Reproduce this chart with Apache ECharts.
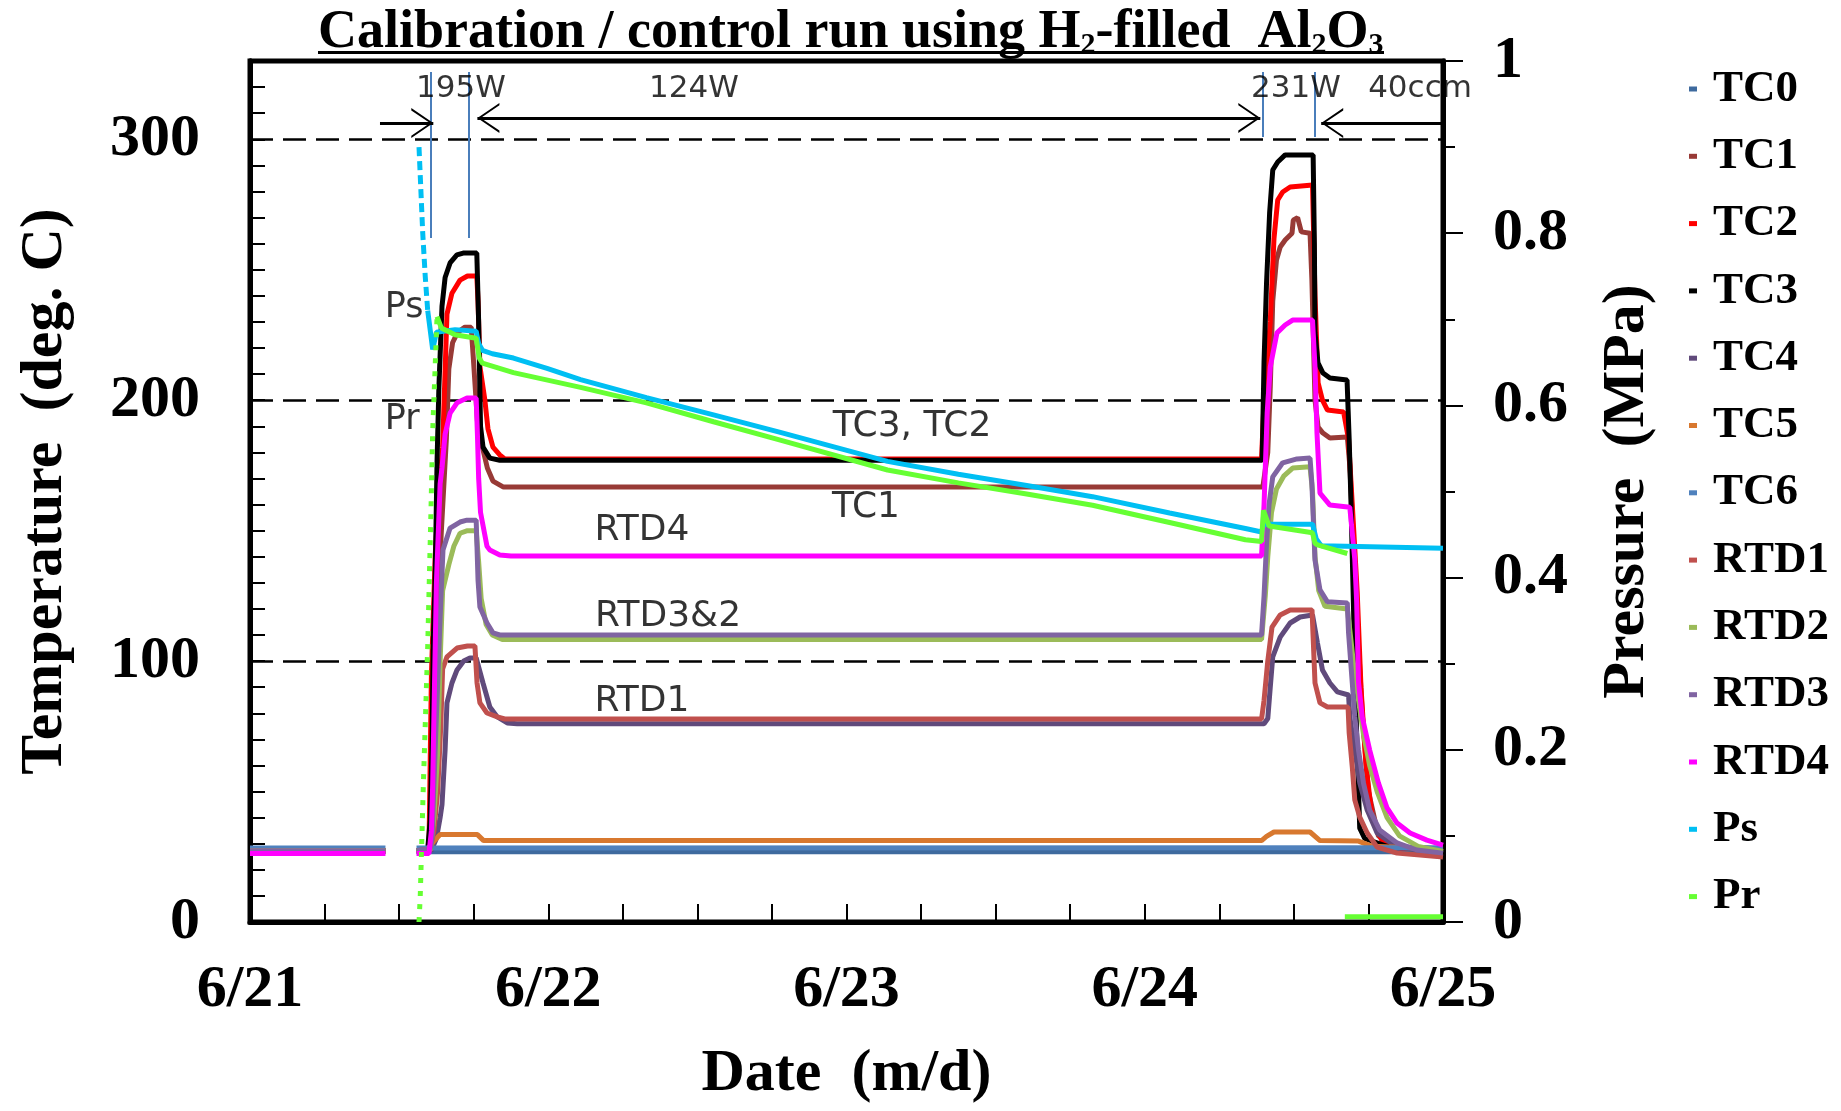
<!DOCTYPE html>
<html>
<head>
<meta charset="utf-8">
<script src="https://cdn.jsdelivr.net/npm/echarts@6/dist/echarts.min.js"></script>
<style>
  html, body { margin: 0; padding: 0; background: #ffffff; }
  #chart { width: 1841px; height: 1111px; }
</style>
</head>
<body>
<div id="chart"></div>
<script>
// ---- data: time in hours since 6/21 00:00, temperature in deg. C, pressure in MPa ----
const DATE_LABELS = ['6/21', '6/22', '6/23', '6/24', '6/25'];
const SERIES_NAMES = ['TC0', 'TC1', 'TC2', 'TC3', 'TC4', 'TC5', 'TC6', 'RTD1', 'RTD2', 'RTD3', 'RTD4', 'Ps', 'Pr'];

// '-' marks a gap in the logged record
const TC0 = [[0, 26.9], [10.9, 26.9], [12, '-'], [13.4, 26.9], [96, 26.9]];

const TC1 = [[0, 27.3], [10.9, 27.3], [12, '-'], [13.4, 27.3], [14.4, 27.5], [14.7, 70], [15.0, 110], [15.4, 150],
  [15.8, 185], [16.0, 212], [16.3, 222], [16.7, 226], [17.3, 228], [17.8, 228], [18.0, 214], [18.3, 192], [18.7, 182],
  [19.1, 174], [19.55, 169], [20.4, 166.7], [81.5, 166.7], [81.9, 180], [82.1, 205], [82.3, 238], [82.6, 253.7],
  [82.9, 258.7], [83.3, 261.4], [83.85, 264], [83.95, 269], [84.3, 270], [84.6, 264.5], [85.3, 264], [85.45, 246],
  [85.7, 200], [85.95, 189.7], [86.34, 187.4], [86.9, 185.5], [88.3, 185.9], [88.5, 175], [88.75, 150], [89.1, 115],
  [89.5, 80], [90.0, 50], [90.8, 33], [92, 28.5], [96, 27.5]];

const TC2 = [[0, 27.3], [10.9, 27.3], [12, '-'], [13.4, 27.3], [14.4, 28], [14.6, 95], [14.9, 140], [15.2, 165],
  [15.5, 182], [15.85, 233], [16.25, 241], [16.9, 246], [17.5, 247.6], [18.25, 247.6], [18.35, 238], [18.5, 213],
  [18.9, 200], [19.15, 189], [19.55, 182], [20.1, 179], [20.5, 177.5], [81.4, 177.5], [81.6, 200], [82.1, 230],
  [82.4, 262], [82.7, 276.7], [83.1, 279.8], [83.7, 281.7], [85.5, 282.5], [85.7, 240], [85.95, 206.6], [86.3, 200],
  [86.7, 196.2], [88.0, 195.5], [88.4, 185], [88.7, 160], [89.1, 126], [89.4, 90], [89.8, 60], [90.3, 40], [91.1, 31],
  [92.5, 28.5], [96, 27.5]];

const TC3 = [[0, 27.3], [10.9, 27.3], [12, '-'], [13.4, 27.3], [14.3, 28], [14.5, 39], [14.65, 68], [14.75, 108],
  [14.9, 132], [15.05, 176], [15.2, 205], [15.45, 236], [15.7, 247], [16.1, 252.6], [16.65, 255.7], [17.15, 256.4],
  [18.25, 256.4], [18.4, 230], [18.55, 190], [18.75, 182], [19.3, 177.8], [20.1, 177], [81.45, 177], [81.6, 215],
  [81.8, 245], [82.05, 272], [82.3, 288.2], [82.7, 291.3], [83.3, 294], [85.55, 294], [85.65, 260], [85.7, 225.8],
  [85.94, 214.3], [86.34, 210.4], [86.9, 208.5], [88.28, 207.7], [88.45, 185], [88.6, 160], [88.8, 120], [89.0, 80],
  [89.3, 36], [89.7, 32], [91.5, 29], [96, 28]];

const TC4 = [[0, 27.3], [10.9, 27.3], [12, '-'], [13.4, 27.3], [14.6, 27.5], [15.0, 32], [15.3, 40], [15.45, 45],
  [15.7, 66], [15.85, 84], [16.25, 91.6], [16.66, 96.6], [17.2, 100], [17.7, 101.2], [18.2, 101.2], [18.75, 91.6],
  [19.3, 82.4], [19.9, 78.6], [20.7, 76.3], [21.5, 76], [81.6, 76], [81.9, 78], [82.1, 90], [82.3, 101.6], [82.9, 109.2],
  [83.7, 114.6], [84.5, 116.9], [85.5, 117.7], [85.9, 106.9], [86.3, 96.6], [86.9, 91.6], [87.5, 88.2], [88.4, 87],
  [88.5, 78.6], [88.9, 65.9], [89.3, 53.3], [89.9, 42.9], [90.7, 34.1], [92.3, 28.7], [96, 26.4]];

const TC5 = [[0, 27.3], [10.9, 27.3], [12, '-'], [13.4, 27.3], [14.3, 28], [14.8, 31], [15.3, 33.5], [18.3, 33.5],
  [18.8, 31.2], [81.4, 31.2], [81.8, 32.8], [82.4, 34.5], [85.3, 34.5], [86.1, 31.2], [89.2, 31], [90.3, 29], [96, 28]];

const TC6 = [[0, 28.4], [10.9, 28.4], [12, '-'], [13.4, 28.4], [96, 28.5]];

const RTD1 = [[0, 27.3], [10.9, 27.3], [12, '-'], [13.4, 27.3], [14.5, 28], [14.8, 35], [15.1, 50], [15.35, 75],
  [15.5, 97], [15.85, 101.6], [16.66, 105], [17.5, 105.8], [18.1, 105.8], [18.27, 91.6], [18.5, 84], [19.07, 80.1],
  [19.9, 78.6], [20.5, 77.8], [81.4, 77.8], [81.6, 85], [81.9, 100], [82.24, 113], [82.9, 117.7], [83.7, 119.6],
  [85.46, 119.6], [85.55, 109.2], [85.7, 91.6], [86.1, 84], [86.7, 82.4], [88.36, 82.4], [88.45, 72.4], [88.7, 59.4],
  [88.9, 46.8], [89.3, 40.2], [89.9, 34.1], [90.7, 28.7], [92.3, 26.4], [96, 24.9]];

const RTD2 = [[0, 27.3], [10.9, 27.3], [12, '-'], [13.4, 27.3], [14.5, 27.5], [14.8, 40], [15.1, 65], [15.3, 100],
  [15.5, 127], [16.0, 137], [16.4, 144], [16.9, 149], [17.5, 150], [18.2, 150], [18.4, 138], [18.6, 124], [19.0, 114],
  [19.5, 110], [20.3, 108.3], [81.4, 108.3], [81.7, 125], [81.9, 140], [82.2, 157], [82.6, 166], [83.2, 171], [83.9, 174],
  [85.3, 174.5], [85.5, 165], [85.7, 140], [86.0, 127], [86.5, 121], [88.3, 120], [88.5, 112], [88.8, 99], [89.2, 85],
  [89.6, 72], [90.1, 60], [90.7, 50], [91.5, 40], [92.5, 33], [94, 29], [96, 27]];

const RTD3 = [[0, 27.3], [10.9, 27.3], [12, '-'], [13.4, 27.3], [14.5, 28], [14.65, 32], [14.9, 66], [15.3, 117],
  [15.53, 142.6], [16.1, 151], [16.9, 153.3], [17.46, 154], [18.2, 154], [18.35, 131], [18.5, 120.7], [19.07, 114.6],
  [19.55, 110.8], [20.1, 110], [81.4, 110], [81.6, 125], [81.8, 145], [82.0, 160], [82.3, 170.6], [83.1, 176],
  [84.25, 177.5], [85.3, 177.8], [85.45, 168], [85.7, 138.7], [86.1, 127.3], [86.7, 122.7], [88.3, 122.3], [88.4, 110.8],
  [88.7, 91.6], [88.9, 78.6], [89.2, 65.9], [89.6, 53.3], [90.1, 42.9], [90.9, 35.3], [92.3, 30.3], [93.9, 27.6], [96, 26.4]];

const RTD4 = [[0, 26.3], [10.9, 26.3], [12, '-'], [13.4, 26.3], [14.4, 26.3], [14.6, 35], [14.7, 53], [14.85, 92],
  [15.0, 130], [15.3, 168], [15.45, 174], [15.7, 187], [16.1, 195], [16.66, 199], [17.46, 200.8], [18.2, 200.8],
  [18.3, 187], [18.4, 170], [18.55, 157], [19.07, 144], [19.3, 142.6], [20.1, 140.7], [21, 140.3], [81.4, 140.3],
  [81.6, 160], [81.85, 195], [82.1, 212.7], [82.64, 225.8], [83.3, 228.8], [83.9, 230.7], [85.5, 230.7], [85.7, 212.7],
  [85.86, 187.4], [86.1, 164.4], [86.9, 159.8], [88.5, 159], [88.9, 139], [89.05, 123], [89.2, 92], [89.5, 78.6],
  [90.1, 65.9], [90.8, 53.3], [91.5, 43.7], [92.3, 37.9], [93.35, 34.1], [94.7, 31.4], [96, 29.5]];

// supply pressure: fast fall after the valve opens, then slow decline
const PS_FALL = [[13.6, 0.90], [13.75, 0.85], [13.9, 0.80], [14.1, 0.75], [14.3, 0.71]];
const PS = [[14.3, 0.71], [14.7, 0.665], [15.0, 0.685], [16.5, 0.688], [18.2, 0.686],
  [18.4, 0.672], [18.7, 0.664], [19.5, 0.660], [21.2, 0.655], [23.9, 0.643], [26.6, 0.630], [31.9, 0.609], [37.3, 0.589],
  [42.6, 0.569], [51.3, 0.535], [57, 0.520], [62.5, 0.507], [67.8, 0.494], [74, 0.475], [80.1, 0.457], [81.4, 0.453],
  [81.55, 0.462], [85.5, 0.462], [85.8, 0.445], [86.2, 0.437], [96, 0.434]];

// reactor pressure: fill, slow decline, then vented
const PR_FILL = [[13.6, 0.0], [13.7, 0.03], [13.95, 0.16], [14.3, 0.32], [14.55, 0.47], [14.7, 0.57], [14.9, 0.645],
  [15.05, 0.703]];
const PR = [[15.05, 0.703], [15.4, 0.69], [16.5, 0.682], [18.2, 0.678], [18.45, 0.655], [18.7, 0.649], [21.2, 0.638],
  [26.6, 0.621], [31.9, 0.603], [37.3, 0.581], [42.6, 0.560], [51.3, 0.525], [57, 0.510], [62.5, 0.497], [67.8, 0.484],
  [74, 0.464], [80.1, 0.444], [81.4, 0.442], [81.55, 0.478], [82.0, 0.460], [85.5, 0.452], [85.7, 0.440], [85.9, 0.438],
  [88.3, 0.428], [88.32, '-'], [88.1, 0.006], [96, 0.006]];

// ---- styling ----
const SERIF = '"Liberation Serif", "Times New Roman", serif';
const SANS = '"DejaVu Sans", Verdana, sans-serif';

const SERIES_DEFS = [
  { name: 'TC0', data: TC0, color: '#3E6A9E', axis: 0 },
  { name: 'TC1', data: TC1, color: '#983A36', axis: 0 },
  { name: 'TC2', data: TC2, color: '#FF0000', axis: 0 },
  { name: 'TC3', data: TC3, color: '#000000', axis: 0 },
  { name: 'TC4', data: TC4, color: '#604A7B', axis: 0 },
  { name: 'TC5', data: TC5, color: '#D8782F', axis: 0 },
  { name: 'TC6', data: TC6, color: '#4F81BD', axis: 0 },
  { name: 'RTD1', data: RTD1, color: '#C0504D', axis: 0 },
  { name: 'RTD2', data: RTD2, color: '#9BBB59', axis: 0 },
  { name: 'RTD3', data: RTD3, color: '#8064A2', axis: 0 },
  { name: 'RTD4', data: RTD4, color: '#FF00FF', axis: 0 },
  { name: 'Ps', data: PS_FALL, color: '#00BFF3', axis: 1, dash: [9, 5] },
  { name: 'Ps', data: PS, color: '#00BFF3', axis: 1 },
  { name: 'Pr', data: PR_FILL, color: '#66FF33', axis: 1, dash: [5, 8] },
  { name: 'Pr', data: PR, color: '#66FF33', axis: 1 }
];

// text annotations, anchored in (hours, deg. C)
const NOTES = [
  { name: '195W', at: [16.98, 319.3], size: 31 },
  { name: '124W', at: [35.73, 319.3], size: 31 },
  { name: '231W', at: [84.17, 319.3], size: 31 },
  { name: '40ccm', at: [94.15, 319.3], size: 31 },
  { name: 'Ps', at: [12.4, 235.3], size: 35 },
  { name: 'Pr', at: [12.25, 192.4], size: 35 },
  { name: 'TC3, TC2', at: [53.27, 189.7], size: 36 },
  { name: 'TC1', at: [49.57, 158.7], size: 36 },
  { name: 'RTD4', at: [31.54, 149.9], size: 36 },
  { name: 'RTD3&2', at: [33.64, 116.9], size: 36 },
  { name: 'RTD1', at: [31.54, 84.3], size: 36 }
];

// open chevron arrow head; the tip sits at the centre of the symbol box
const CHEVRON = 'path://M0,0 L0.05,0 L0,0.05 Z M10,24 L20,48 L18.4,48 L10,27.6 L1.6,48 L0,48 Z';

// power-period markers and arrows (hours, deg. C)
const POWER_MARKS = [14.57, 17.62, 81.5, 85.7];
const POWER_MARK_SPAN = [[325.8, 262.2], [325.8, 262.2], [325.8, 300.9], [325.8, 300.9]];
const ARROWS = [
  { from: [10.46, 306.2], to: [14.75, 306.2], heads: ['none', CHEVRON] },
  { from: [18.3, 308.2], to: [81.3, 308.2], heads: [CHEVRON, CHEVRON] },
  { from: [86.2, 306.2], to: [96, 306.2], heads: [CHEVRON, 'none'] }
];

const markLineData = [];
POWER_MARKS.forEach((t, i) => {
  markLineData.push([
    { coord: [t, POWER_MARK_SPAN[i][0]], symbol: 'none', lineStyle: { color: '#4A7EBB', width: 2, type: 'solid' } },
    { coord: [t, POWER_MARK_SPAN[i][1]], symbol: 'none' }
  ]);
});
ARROWS.forEach(a => {
  markLineData.push([
    { coord: a.from, symbol: a.heads[0], symbolSize: [30, 44], lineStyle: { color: '#000', width: 3, type: 'solid' } },
    { coord: a.to, symbol: a.heads[1], symbolSize: [30, 44] }
  ]);
});

const series = SERIES_DEFS.map(d => ({
  type: 'line',
  name: d.name,
  data: d.data,
  yAxisIndex: d.axis,
  showSymbol: false,
  symbol: 'none',
  connectNulls: false,
  lineStyle: { color: d.color, width: 5, type: d.dash || 'solid' },
  itemStyle: { color: d.color },
  emphasis: { disabled: true },
  animation: false
}));

series.push({
  type: 'scatter',
  name: 'notes',
  yAxisIndex: 0,
  silent: true,
  symbol: 'circle',
  symbolSize: 1,
  itemStyle: { color: 'rgba(0,0,0,0)' },
  z: 10,
  data: NOTES.map(n => ({
    name: n.name,
    value: n.at,
    label: { fontSize: n.size }
  })),
  label: {
    show: true,
    position: 'inside',
    formatter: '{b}',
    fontFamily: SANS,
    color: '#000'
  },
  markLine: {
    silent: true,
    animation: false,
    symbol: ['none', 'none'],
    label: { show: false },
    emphasis: { disabled: true },
    itemStyle: { color: '#222' },
    data: markLineData
  },
  animation: false
});

const axisFont = { fontFamily: SERIF, fontSize: 60, fontWeight: 'bold', color: '#000' };

const option = {
  backgroundColor: '#ffffff',
  animation: false,
  title: {
    left: 318,
    top: -2,
    padding: 0,
    text: '{m|Calibration / control run using H}{s|2}{m|-filled  Al}{s|2}{m|O}{s|3}',
    textStyle: {
      rich: {
        m: { fontFamily: SERIF, fontSize: 54, fontWeight: 'bold', color: '#000', lineHeight: 62, verticalAlign: 'bottom' },
        s: { fontFamily: SERIF, fontSize: 30, fontWeight: 'bold', color: '#000', lineHeight: 24, verticalAlign: 'bottom' }
      }
    }
  },
  graphic: [
    { type: 'rect', shape: { x: 318, y: 51, width: 1066, height: 3 }, style: { fill: '#000' }, silent: true }
  ],
  legend: {
    orient: 'vertical',
    left: 1684,
    top: 60,
    itemWidth: 8,
    itemHeight: 5,
    itemGap: 19.3,
    icon: 'rect',
    selectedMode: false,
    data: SERIES_NAMES,
    textStyle: { fontFamily: SERIF, fontSize: 45, fontWeight: 'bold', color: '#000', lineHeight: 48, padding: [0, 0, 0, 11] }
  },
  grid: {
    left: 250, right: 398, top: 61, bottom: 189,
    show: true, borderColor: '#000', borderWidth: 5, backgroundColor: '#fff'
  },
  xAxis: {
    type: 'value', min: 0, max: 96, interval: 6,
    axisLine: { show: true, onZero: false, lineStyle: { color: '#000', width: 5 } },
    axisTick: { show: true, inside: true, length: 18, lineStyle: { color: '#000', width: 2 } },
    axisLabel: Object.assign({
      margin: 38, showMinLabel: true, showMaxLabel: true,
      formatter: v => (v % 24 === 0 ? DATE_LABELS[v / 24] : '')
    }, axisFont),
    splitLine: { show: false },
    name: 'Date  (m/d)', nameLocation: 'middle', nameGap: 122,
    nameTextStyle: axisFont
  },
  yAxis: [
    {
      type: 'value', min: 0, max: 330, interval: 100, position: 'left',
      axisLine: { show: true, onZero: false, lineStyle: { color: '#000', width: 5 } },
      axisTick: { show: false },
      axisLabel: Object.assign({ margin: 50, formatter: v => (v % 100 === 0 ? String(v) : '') }, axisFont),
      splitLine: { show: true, lineStyle: { color: '#000', width: 2.5, type: [23, 10] } },
      name: 'Temperature  (deg. C)', nameLocation: 'middle', nameGap: 175,
      nameTextStyle: axisFont
    },
    {
      type: 'value', min: 0, max: 1, interval: 0.2, position: 'right',
      axisLine: { show: true, onZero: false, lineStyle: { color: '#000', width: 5 } },
      axisTick: { show: true, inside: false, length: 20, lineStyle: { color: '#000', width: 2 } },
      minorTick: { show: true, splitNumber: 2, length: 12, lineStyle: { color: '#000', width: 2 } },
      axisLabel: Object.assign({ margin: 50, formatter: v => (v === 0 || v === 1 ? String(v) : v.toFixed(1)) }, axisFont),
      splitLine: { show: false },
      name: 'Pressure  (MPa)', nameLocation: 'middle', nameRotate: 90, nameGap: 154,
      nameTextStyle: axisFont
    },
    {
      type: 'value', min: 0, max: 330, interval: 10, position: 'left',
      axisLine: { show: true, onZero: false, lineStyle: { color: '#000', width: 5 } },
      axisTick: { show: true, inside: true, length: 15, lineStyle: { color: '#000', width: 2 } },
      axisLabel: { show: false },
      splitLine: { show: false }
    }
  ],
  series: series
};

const chart = echarts.init(document.getElementById('chart'), null, { renderer: 'canvas' });
chart.setOption(option);
</script>
</body>
</html>
